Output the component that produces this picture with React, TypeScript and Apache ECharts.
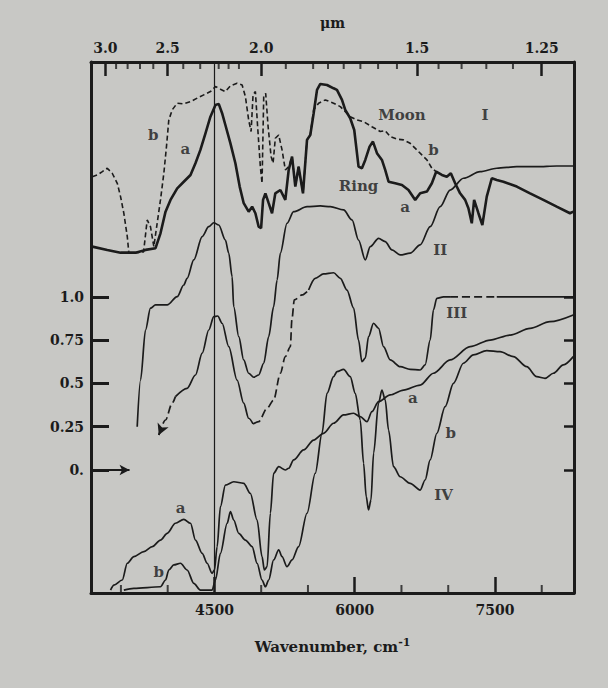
import React, { useEffect, useRef } from 'react';
import * as echarts from 'echarts';

// ---- axis ranges (wavenumber cm^-1 and relative transmission/reflectance) ----
const WN_MIN = 3180;
const WN_MAX = 8345;
const T_MIN = -0.711;
const T_MAX = 2.358;

// bottom axis ticks (cm^-1)
const wnMajor = [4500, 6000, 7500];
const wnMinor = [3500, 4000, 5000, 5500, 6500, 7000, 8000];
// top axis ticks (micrometres)
const umMajor = [3.0, 2.5, 2.0, 1.5, 1.25];
const umMajorText = ['3.0', '2.5', '2.0', '1.5', '1.25'];
const umMinor = [2.9, 2.8, 2.7, 2.6, 2.4, 2.3, 2.2, 2.15, 2.1, 1.9, 1.8, 1.75, 1.7, 1.65, 1.6, 1.55, 1.45, 1.4, 1.35, 1.3];
// left axis ticks
const tTicks = [0, 0.25, 0.5, 0.75, 1.0];
const tTickText = ['0.', '0.25', '0.5', '0.75', '1.0'];

// ---- curve I a : Ring (solid, noisy) ----
const ringA = [
  [3194, 1.291], [3354, 1.272], [3496, 1.256], [3656, 1.256], [3763, 1.272], [3870, 1.282],
  [3923, 1.368], [3977, 1.493], [4030, 1.561], [4102, 1.628], [4172, 1.666], [4244, 1.705],
  [4297, 1.773], [4350, 1.85], [4404, 1.946], [4457, 2.042], [4511, 2.11], [4546, 2.116],
  [4582, 2.062], [4617, 1.994], [4671, 1.888], [4724, 1.773], [4770, 1.638], [4813, 1.542],
  [4866, 1.493], [4903, 1.522], [4938, 1.484], [4973, 1.406], [4999, 1.397], [5020, 1.561],
  [5045, 1.599], [5080, 1.542], [5116, 1.484], [5151, 1.599], [5205, 1.618], [5258, 1.561],
  [5294, 1.734], [5330, 1.811], [5365, 1.638], [5400, 1.753], [5447, 1.599], [5490, 1.908],
  [5525, 1.936], [5561, 2.062], [5597, 2.197], [5632, 2.231], [5704, 2.225], [5774, 2.206],
  [5810, 2.197], [5864, 2.139], [5899, 2.081], [5952, 2.033], [5995, 1.965], [6041, 1.753],
  [6077, 1.744], [6113, 1.792], [6159, 1.869], [6195, 1.898], [6238, 1.831], [6291, 1.792],
  [6326, 1.734], [6362, 1.666], [6433, 1.657], [6505, 1.647], [6575, 1.618], [6647, 1.561],
  [6700, 1.599], [6772, 1.609], [6825, 1.657], [6871, 1.724], [6932, 1.705], [6985, 1.695],
  [7028, 1.715], [7074, 1.657], [7127, 1.599], [7181, 1.561], [7216, 1.513], [7252, 1.426],
  [7277, 1.561], [7323, 1.484], [7365, 1.416], [7412, 1.58], [7466, 1.686], [7519, 1.676],
  [7590, 1.666], [7733, 1.638], [7875, 1.599], [8017, 1.561], [8160, 1.522], [8302, 1.484],
  [8337, 1.493],
];

// ---- curve I b : Moon (dashed) ----
const moonB = [
  [3194, 1.695], [3247, 1.705], [3301, 1.724], [3354, 1.744], [3407, 1.715], [3461, 1.657],
  [3496, 1.58], [3531, 1.484], [3568, 1.349], [3585, 1.253], [3656, 1.256], [3742, 1.26],
  [3781, 1.445], [3816, 1.406], [3852, 1.291], [3923, 1.561], [3959, 1.715], [3987, 1.869],
  [4012, 2.023], [4048, 2.081], [4102, 2.12], [4172, 2.116], [4244, 2.129], [4315, 2.149],
  [4386, 2.168], [4457, 2.187], [4511, 2.216], [4564, 2.201], [4617, 2.187], [4671, 2.22],
  [4742, 2.235], [4796, 2.225], [4831, 2.158], [4866, 2.023], [4892, 1.956], [4913, 2.168],
  [4938, 2.187], [4962, 1.984], [4991, 1.753], [5009, 1.657], [5027, 2.158], [5048, 2.177],
  [5074, 1.984], [5106, 1.811], [5127, 1.773], [5151, 1.917], [5187, 1.936], [5223, 1.85],
  [5258, 1.734], [5294, 1.753], [5330, 1.811], [5365, 1.638], [5400, 1.753], [5447, 1.599],
  [5490, 1.908], [5525, 1.936], [5561, 2.081], [5614, 2.12], [5686, 2.139], [5774, 2.12],
  [5846, 2.1], [5952, 2.042], [6024, 2.023], [6095, 2.013], [6184, 1.984], [6273, 1.956],
  [6326, 1.961], [6380, 1.927], [6451, 1.912], [6522, 1.908], [6593, 1.888], [6665, 1.85],
  [6718, 1.821], [6772, 1.792], [6825, 1.744], [6871, 1.724],
];

// ---- curve II ----
const curveII = [
  [3674, 0.25], [3710, 0.52], [3763, 0.809], [3816, 0.935], [3870, 0.954], [3995, 0.954],
  [4102, 1.002], [4172, 1.069], [4208, 1.108], [4279, 1.214], [4369, 1.349], [4439, 1.406],
  [4493, 1.429], [4546, 1.416], [4617, 1.329], [4653, 1.253], [4689, 1.117], [4706, 0.944],
  [4760, 0.771], [4813, 0.636], [4866, 0.559], [4920, 0.536], [4973, 0.549], [5027, 0.617],
  [5080, 0.771], [5133, 0.944], [5170, 1.098], [5205, 1.253], [5276, 1.426], [5347, 1.493],
  [5490, 1.522], [5632, 1.526], [5739, 1.522], [5881, 1.503], [5971, 1.445], [6041, 1.329],
  [6113, 1.214], [6166, 1.291], [6255, 1.339], [6326, 1.32], [6398, 1.272], [6486, 1.243],
  [6593, 1.253], [6700, 1.301], [6807, 1.406], [6914, 1.522], [7020, 1.618], [7163, 1.686],
  [7341, 1.724], [7519, 1.744], [7733, 1.753], [7946, 1.753], [8160, 1.757], [8337, 1.757],
];

// ---- curve III (solid with dashed stretches) ----
const curveIII = [
  [3905, 0.202], [3977, 0.289], [4048, 0.386], [4083, 0.424], [4208, 0.472], [4297, 0.549],
  [4369, 0.675], [4439, 0.809], [4493, 0.886], [4535, 0.89], [4582, 0.848], [4653, 0.713],
  [4742, 0.52], [4813, 0.386], [4866, 0.299], [4913, 0.266], [4973, 0.279], [5063, 0.357],
  [5133, 0.405], [5205, 0.559], [5258, 0.655], [5312, 0.713], [5328, 0.867], [5354, 0.983],
  [5437, 1.012], [5507, 1.04], [5578, 1.108], [5667, 1.133], [5774, 1.14], [5846, 1.108],
  [5917, 1.04], [5988, 0.936], [6041, 0.751], [6077, 0.626], [6113, 0.646], [6148, 0.771],
  [6201, 0.848], [6255, 0.819], [6308, 0.713], [6380, 0.636], [6486, 0.597], [6593, 0.582],
  [6700, 0.578], [6753, 0.607], [6807, 0.751], [6842, 0.925], [6878, 0.992], [6949, 1.0],
  [7020, 1.0], [7519, 1.0], [8337, 1.0],
];
const iiiDashedRanges = [[3905, 4083], [4913, 5507], [7020, 7519]];
const iiiSolidRanges = [[4083, 4913], [5507, 7020], [7519, 8337]];

// ---- curve IV a and b ----
const curveIVa = [
  [3389, -0.694], [3425, -0.665], [3514, -0.636], [3568, -0.539], [3638, -0.501], [3745, -0.472],
  [3835, -0.443], [3923, -0.405], [3995, -0.366], [4083, -0.308], [4172, -0.285], [4244, -0.308],
  [4297, -0.405], [4369, -0.482], [4422, -0.539], [4475, -0.597], [4500, -0.578], [4529, -0.443],
  [4564, -0.212], [4617, -0.087], [4706, -0.068], [4813, -0.077], [4884, -0.135], [4956, -0.289],
  [5009, -0.501], [5034, -0.578], [5063, -0.559], [5098, -0.25], [5133, -0.019], [5187, 0.019],
  [5258, 0.0], [5294, 0.01], [5347, 0.058], [5454, 0.116], [5561, 0.173], [5667, 0.212],
  [5774, 0.27], [5881, 0.318], [5988, 0.328], [6059, 0.308], [6131, 0.279], [6184, 0.337],
  [6255, 0.395], [6380, 0.434], [6522, 0.462], [6700, 0.491], [6842, 0.559], [7020, 0.636],
  [7234, 0.713], [7448, 0.751], [7661, 0.78], [7875, 0.819], [8088, 0.857], [8337, 0.896],
];
const curveIVb = [
  [3531, -0.694], [3638, -0.684], [3923, -0.675], [3977, -0.636], [4012, -0.578], [4065, -0.549],
  [4137, -0.539], [4208, -0.578], [4279, -0.655], [4350, -0.694], [4475, -0.694], [4511, -0.636],
  [4564, -0.482], [4636, -0.308], [4671, -0.241], [4706, -0.289], [4760, -0.366], [4831, -0.405],
  [4903, -0.443], [4956, -0.539], [5009, -0.636], [5045, -0.675], [5080, -0.636], [5133, -0.52],
  [5187, -0.462], [5223, -0.501], [5276, -0.559], [5330, -0.52], [5400, -0.443], [5490, -0.25],
  [5578, -0.019], [5650, 0.212], [5704, 0.443], [5774, 0.539], [5810, 0.568], [5881, 0.582],
  [5952, 0.539], [6006, 0.443], [6059, 0.289], [6095, 0.039], [6123, -0.154], [6148, -0.231],
  [6174, -0.173], [6202, 0.097], [6255, 0.386], [6291, 0.462], [6326, 0.405], [6362, 0.231],
  [6415, 0.019], [6486, -0.039], [6593, -0.077], [6700, -0.116], [6753, -0.058], [6807, 0.058],
  [6878, 0.212], [6967, 0.366], [7056, 0.501], [7162, 0.617], [7269, 0.665], [7412, 0.69],
  [7554, 0.684], [7697, 0.655], [7839, 0.597], [7946, 0.539], [8035, 0.53], [8124, 0.559],
  [8231, 0.607], [8337, 0.655],
];

// ---- reference marks ----
const refWavenumber = 4500;
const zeroArrow = [[WN_MIN, 0], [3592, 0]];
const iiiArrow = [[3935, 0.24], [3905, 0.202]];

// ---- text annotations ----
const annotations = [
  { text: 'Moon', wn: 6505, t: 2.052 },
  { text: 'I', wn: 7394, t: 2.052 },
  { text: 'b', wn: 6842, t: 1.85 },
  { text: 'Ring', wn: 6041, t: 1.642 },
  { text: 'a', wn: 6540, t: 1.522 },
  { text: 'II', wn: 6914, t: 1.272 },
  { text: 'b', wn: 3845, t: 1.936 },
  { text: 'a', wn: 4190, t: 1.855 },
  { text: 'III', wn: 7092, t: 0.906 },
  { text: 'a', wn: 6622, t: 0.414 },
  { text: 'b', wn: 7028, t: 0.212 },
  { text: 'IV', wn: 6949, t: -0.145 },
  { text: 'a', wn: 4137, t: -0.221 },
  { text: 'b', wn: 3905, t: -0.588 },
];

const INK = '#1b1b1b';
const BG = '#c8c8c5';
const FONT = 'DejaVu Serif';

function segment(points: number[][], from: number, to: number) {
  return points.filter((p) => p[0] >= from && p[0] <= to);
}

function buildOption(): any {
  const textBase = { fontFamily: FONT, fontWeight: 'bold' as const, color: INK };
  const umMajorWn = umMajor.map((u) => 10000 / u);
  const umMinorWn = umMinor.map((u) => 10000 / u);

  const lineBase = {
    type: 'line',
    symbol: 'none',
    silent: true,
    xAxisIndex: 0,
    yAxisIndex: 0,
  };
  const smoothBase = { ...lineBase, smooth: 0.3, smoothMonotone: 'x' };

  const series: any[] = [
    {
      ...lineBase,
      name: 'ringA',
      data: ringA,
      lineStyle: { color: INK, width: 2.6 },
      markLine: {
        silent: true,
        symbol: 'none',
        label: { show: false },
        lineStyle: { color: INK, width: 1.2, type: 'solid' },
        data: [{ xAxis: refWavenumber }],
      },
    },
    {
      ...lineBase,
      name: 'moonB',
      data: moonB,
      lineStyle: { color: INK, width: 1.6, type: [5, 3] },
    },
    {
      ...smoothBase,
      name: 'II',
      data: curveII,
      lineStyle: { color: INK, width: 1.7 },
      markLine: {
        silent: true,
        symbol: ['none', 'arrow'],
        symbolSize: [8, 10],
        label: { show: false },
        lineStyle: { color: INK, width: 2, type: 'solid' },
        data: [[{ coord: zeroArrow[0] }, { coord: zeroArrow[1] }]],
      },
    },
    ...iiiSolidRanges.map((r, i) => ({
      ...smoothBase,
      name: 'IIIs' + i,
      data: segment(curveIII, r[0], r[1]),
      lineStyle: { color: INK, width: 1.7 },
    })),
    ...iiiDashedRanges.map((r, i) => ({
      ...smoothBase,
      name: 'IIId' + i,
      data: segment(curveIII, r[0], r[1]),
      lineStyle: { color: INK, width: 1.7, type: [8, 4] },
      markLine:
        i === 0
          ? {
              silent: true,
              symbol: ['none', 'arrow'],
              symbolSize: [9, 11],
              label: { show: false },
              lineStyle: { color: INK, width: 1.7, type: 'solid' },
              data: [[{ coord: iiiArrow[0] }, { coord: iiiArrow[1] }]],
            }
          : undefined,
    })),
    {
      ...smoothBase,
      name: 'IVa',
      data: curveIVa,
      lineStyle: { color: INK, width: 1.7 },
    },
    {
      ...smoothBase,
      name: 'IVb',
      data: curveIVb,
      lineStyle: { color: INK, width: 1.7 },
    },
    // minor ticks on the bottom axis (pointing up into the frame)
    {
      type: 'scatter',
      name: 'minorBottom',
      silent: true,
      clip: false,
      symbol: 'rect',
      symbolSize: [2, 8],
      symbolOffset: [0, -4],
      itemStyle: { color: INK },
      data: wnMinor.map((w) => [w, T_MIN]),
    },
    // minor ticks on the top (micrometre) axis (pointing down)
    {
      type: 'scatter',
      name: 'minorTop',
      silent: true,
      clip: false,
      symbol: 'rect',
      symbolSize: [2, 7],
      symbolOffset: [0, 3.5],
      itemStyle: { color: INK },
      data: umMinorWn.map((w) => [w, T_MAX]),
    },
    {
      type: 'scatter',
      silent: true,
      symbolSize: 0,
      data: annotations.map((a) => ({ name: a.text, value: [a.wn, a.t] })),
      label: {
        show: true,
        position: 'inside',
        formatter: (p: any) => p.name,
        ...textBase,
        fontSize: 15,
      },
    },
  ];

  return {
    animation: false,
    backgroundColor: BG,
    grid: { left: 91, right: 34, top: 62, bottom: 95, containLabel: false },
    xAxis: [
      {
        type: 'value',
        position: 'bottom',
        min: WN_MIN,
        max: WN_MAX,
        splitLine: { show: false },
        axisLine: { show: true, onZero: false, lineStyle: { color: INK, width: 3 } },
        axisTick: { show: true, inside: true, length: 16, customValues: wnMajor, lineStyle: { color: INK, width: 2.5 } },
        axisLabel: {
          show: true,
          customValues: wnMajor,
          margin: 10,
          fontSize: 14,
          ...textBase,
          formatter: (v: number) => String(Math.round(v)),
        },
        name: 'Wavenumber, cm{sup|-1}',
        nameLocation: 'middle',
        nameGap: 44,
        nameTextStyle: {
          ...textBase,
          fontSize: 15,
          rich: { sup: { ...textBase, fontSize: 11, padding: [0, 0, 9, 0] } },
        },
      },
      {
        type: 'value',
        position: 'top',
        min: WN_MIN,
        max: WN_MAX,
        splitLine: { show: false },
        axisLine: { show: true, onZero: false, lineStyle: { color: INK, width: 3 } },
        axisTick: { show: true, inside: true, length: 14, customValues: umMajorWn, lineStyle: { color: INK, width: 2.5 } },
        axisLabel: {
          show: true,
          customValues: umMajorWn,
          margin: 7,
          fontSize: 14,
          ...textBase,
          formatter: (v: number) => {
            let best = 0;
            umMajorWn.forEach((w, i) => {
              if (Math.abs(w - v) < Math.abs(umMajorWn[best] - v)) best = i;
            });
            return umMajorText[best];
          },
        },
        name: 'μm',
        nameLocation: 'middle',
        nameGap: 32,
        nameTextStyle: { ...textBase, fontSize: 14 },
      },
    ],
    yAxis: [
      {
        type: 'value',
        position: 'left',
        min: T_MIN,
        max: T_MAX,
        splitLine: { show: false },
        axisLine: { show: true, onZero: false, lineStyle: { color: INK, width: 3 } },
        axisTick: { show: true, inside: true, length: 18, customValues: tTicks, lineStyle: { color: INK, width: 3 } },
        axisLabel: {
          show: true,
          customValues: tTicks,
          margin: 7,
          fontSize: 14,
          ...textBase,
          formatter: (v: number) => {
            const i = tTicks.findIndex((t) => Math.abs(t - v) < 1e-6);
            return i >= 0 ? tTickText[i] : '';
          },
        },
      },
      {
        type: 'value',
        position: 'right',
        min: T_MIN,
        max: T_MAX,
        splitLine: { show: false },
        axisLine: { show: true, onZero: false, lineStyle: { color: INK, width: 3 } },
        axisTick: { show: true, inside: true, length: 10, customValues: tTicks, lineStyle: { color: INK, width: 2.5 } },
        axisLabel: { show: false },
      },
    ],
    series,
  };
}

export default function App() {
  const ref = useRef<HTMLDivElement>(null);
  useEffect(() => {
    if (!ref.current) return;
    const chart = echarts.init(ref.current, null, { renderer: 'svg' });
    chart.setOption(buildOption());
    return () => chart.dispose();
  }, []);
  return (
    <div
      ref={ref}
      style={{ position: 'fixed', left: 0, top: 0, width: 608, height: 688, background: BG }}
    />
  );
}
